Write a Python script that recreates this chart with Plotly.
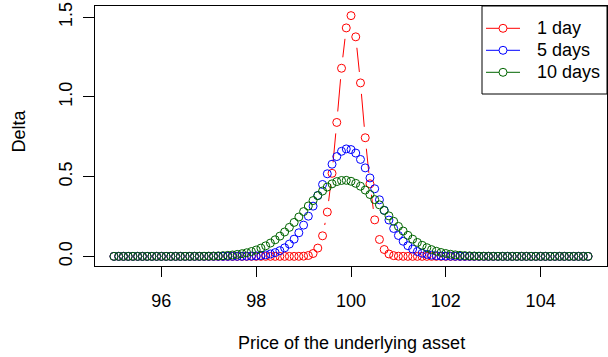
import math
import plotly.graph_objects as go

# ---------------- data ----------------
price = [95.0, 95.1, 95.2, 95.3, 95.4, 95.5, 95.6, 95.7, 95.8, 95.9,
         96.0, 96.1, 96.2, 96.3, 96.4, 96.5, 96.6, 96.7, 96.8, 96.9,
         97.0, 97.1, 97.2, 97.3, 97.4, 97.5, 97.6, 97.7, 97.8, 97.9,
         98.0, 98.1, 98.2, 98.3, 98.4, 98.5, 98.6, 98.7, 98.8, 98.9,
         99.0, 99.1, 99.2, 99.3, 99.4, 99.5, 99.6, 99.7, 99.8, 99.9,
         100.0, 100.1, 100.2, 100.3, 100.4, 100.5, 100.6, 100.7, 100.8, 100.9,
         101.0, 101.1, 101.2, 101.3, 101.4, 101.5, 101.6, 101.7, 101.8, 101.9,
         102.0, 102.1, 102.2, 102.3, 102.4, 102.5, 102.6, 102.7, 102.8, 102.9,
         103.0, 103.1, 103.2, 103.3, 103.4, 103.5, 103.6, 103.7, 103.8, 103.9,
         104.0, 104.1, 104.2, 104.3, 104.4, 104.5, 104.6, 104.7, 104.8, 104.9,
         105.0]

delta_1day = ([0.0] * 39 +
              [0.0003, 0.0014, 0.0055, 0.018, 0.052, 0.129, 0.278, 0.521, 0.840, 1.180,
               1.433, 1.510, 1.377, 1.088, 0.744, 0.455, 0.229, 0.106, 0.043, 0.015,
               0.0045, 0.0012, 0.0003] +
              [0.0] * 39)

delta_5days = ([0.0] * 25 +
               [0.0001, 0.0003, 0.0005, 0.001, 0.0018,
                0.0032, 0.0056, 0.0093, 0.015, 0.0236, 0.036, 0.0535, 0.0773, 0.108, 0.148,
                0.196, 0.252, 0.315, 0.382, 0.451, 0.518, 0.578, 0.626, 0.659, 0.674,
                0.670, 0.648, 0.608, 0.555, 0.492, 0.424, 0.355, 0.289, 0.228, 0.175,
                0.131, 0.095, 0.067, 0.046, 0.0305, 0.0198, 0.0124, 0.0076, 0.0045, 0.0026,
                0.0015, 0.0008, 0.0004, 0.0002] +
               [0.0] * 27)

delta_10days = ([0.0] * 14 +
                [0.0001, 0.0001, 0.0002, 0.0004, 0.0006, 0.0009,
                 0.0014, 0.002, 0.003, 0.0044, 0.0063, 0.0088, 0.0123, 0.0169, 0.0228, 0.0305,
                 0.0401, 0.0519, 0.0663, 0.0835, 0.104, 0.127, 0.153, 0.182, 0.213, 0.247,
                 0.281, 0.316, 0.350, 0.381, 0.410, 0.435, 0.455, 0.469, 0.476, 0.477,
                 0.471, 0.458, 0.440, 0.416, 0.388, 0.356, 0.323, 0.288, 0.254, 0.220,
                 0.188, 0.159, 0.132, 0.108, 0.0873, 0.0695, 0.0546, 0.0423, 0.0322, 0.0242,
                 0.018, 0.0131, 0.0095, 0.0067, 0.0047, 0.0032, 0.0022, 0.0015, 0.001, 0.0006,
                 0.0004, 0.0002, 0.0001] +
                [0.0] * 18)

series_names = ["1 day", "5 days", "10 days"]
series_values = [delta_1day, delta_5days, delta_10days]
series_colors = ["#FF0000", "#0000FF", "#006400"]

x_ticks = [96, 98, 100, 102, 104]
y_ticks = [0.0, 0.5, 1.0, 1.5]
y_tick_labels = ["0.0", "0.5", "1.0", "1.5"]

for v in series_values:
    assert len(v) == len(price)

# ---------------- layout constants ----------------
W, H = 608, 357
ML, MR, MT, MB = 95, 1, 6, 91
xmin, xmax = min(price), max(price)
ymin = 0.0
ymax = max(max(v) for v in series_values)
xpad = 0.04 * (xmax - xmin)
ypad = 0.04 * (ymax - ymin)
xr = [xmin - xpad, xmax + xpad]
yr = [ymin - ypad, ymax + ypad]
plot_w = W - ML - MR
plot_h = H - MT - MB
kx = plot_w / (xr[1] - xr[0])   # px per x unit
ky = plot_h / (yr[1] - yr[0])   # px per y unit

FONT = "Liberation Sans, Arial, sans-serif"
FS = 18
GAP = 11  # px gap around points (R type="b")
MSIZE = 8

# legend geometry (pixels, page coordinates)
LEG_X0, LEG_X1, LEG_Y0, LEG_Y1 = 482, W - MR, MT, 94
LEG_ROW0, LEG_ROW_STEP = 28.3, 22.0
LEG_LINE_X0, LEG_LINE_X1, LEG_TEXT_X = 486, 520, 535


def gapped_segments(xs, ys, d=GAP):
    sx, sy = [], []
    for i in range(1, len(xs)):
        dx = (xs[i] - xs[i - 1]) * kx
        dy = (ys[i] - ys[i - 1]) * ky
        dist = math.hypot(dx, dy)
        if dist == 0:
            continue
        f = d / dist
        if f < 0.5:
            sx += [xs[i - 1] + f * (xs[i] - xs[i - 1]), xs[i] - f * (xs[i] - xs[i - 1]), None]
            sy += [ys[i - 1] + f * (ys[i] - ys[i - 1]), ys[i] - f * (ys[i] - ys[i - 1]), None]
    return sx, sy


fig = go.Figure()
for name, vals, col in zip(series_names, series_values, series_colors):
    sx, sy = gapped_segments(price, vals)
    fig.add_trace(go.Scatter(x=sx, y=sy, mode="lines", line=dict(color=col, width=1),
                             showlegend=False, hoverinfo="skip"))
    fig.add_trace(go.Scatter(x=price, y=vals, mode="markers",
                             marker=dict(symbol="circle-open", size=MSIZE, color=col,
                                         line=dict(width=1, color=col)),
                             showlegend=False, name=name))

# ---------------- manual legend on a pixel overlay axis ----------------
shapes = [dict(type="rect", xref="x2", yref="y2", x0=LEG_X0, x1=LEG_X1, y0=LEG_Y0, y1=LEG_Y1,
               line=dict(color="black", width=1), fillcolor="white", layer="below")]
annotations = []
for i, (name, col) in enumerate(zip(series_names, series_colors)):
    ry = LEG_ROW0 + i * LEG_ROW_STEP
    fig.add_trace(go.Scatter(x=[LEG_LINE_X0, LEG_LINE_X1], y=[ry, ry], mode="lines",
                             line=dict(color=col, width=1), xaxis="x2", yaxis="y2",
                             showlegend=False, hoverinfo="skip"))
    fig.add_trace(go.Scatter(x=[(LEG_LINE_X0 + LEG_LINE_X1) / 2], y=[ry], mode="markers",
                             marker=dict(symbol="circle", size=MSIZE, color="white",
                                         line=dict(width=1, color=col)),
                             xaxis="x2", yaxis="y2", showlegend=False, hoverinfo="skip"))
    annotations.append(dict(text=name, xref="x2", yref="y2", x=LEG_TEXT_X, y=ry,
                            xanchor="left", yanchor="middle", showarrow=False,
                            font=dict(family=FONT, size=FS)))

annotations += [
    dict(text="Price of the underlying asset", xref="paper", yref="paper",
         x=0.5, y=-(MB - 14) / plot_h, yanchor="middle", xanchor="center",
         showarrow=False, font=dict(family=FONT, size=FS)),
    dict(text="Delta", xref="paper", yref="paper",
         x=(18.5 - ML) / plot_w, y=(H - MB - 131) / plot_h, textangle=-90,
         xanchor="center", yanchor="middle", showarrow=False,
         font=dict(family=FONT, size=FS)),
]

fig.update_layout(
    width=W, height=H,
    margin=dict(l=ML, r=MR, t=MT, b=MB, pad=0),
    paper_bgcolor="white", plot_bgcolor="white",
    font=dict(family=FONT, size=FS, color="black"),
    showlegend=False,
    xaxis=dict(range=xr, tickvals=x_ticks, ticktext=[str(t) for t in x_ticks],
               showgrid=False, zeroline=False, showline=True, linecolor="black",
               linewidth=1, mirror=True, ticks="outside", ticklen=10, tickwidth=1,
               tickcolor="black", tickfont=dict(family=FONT, size=FS),
               ticklabelstandoff=8),
    yaxis=dict(range=yr, tickvals=y_ticks, ticktext=y_tick_labels,
               showgrid=False, zeroline=False, showline=True, linecolor="black",
               linewidth=1, mirror=True, ticks="outside", ticklen=11, tickwidth=1,
               tickcolor="black", tickangle=-90, tickfont=dict(family=FONT, size=FS),
               ticklabelstandoff=4),
    xaxis2=dict(range=[ML, W - MR], overlaying="x", anchor="y2", visible=False,
                fixedrange=True),
    yaxis2=dict(range=[H - MB, MT], overlaying="y", anchor="x2", visible=False,
                fixedrange=True),
    shapes=shapes,
    annotations=annotations,
)

fig.write_html("out.html")
